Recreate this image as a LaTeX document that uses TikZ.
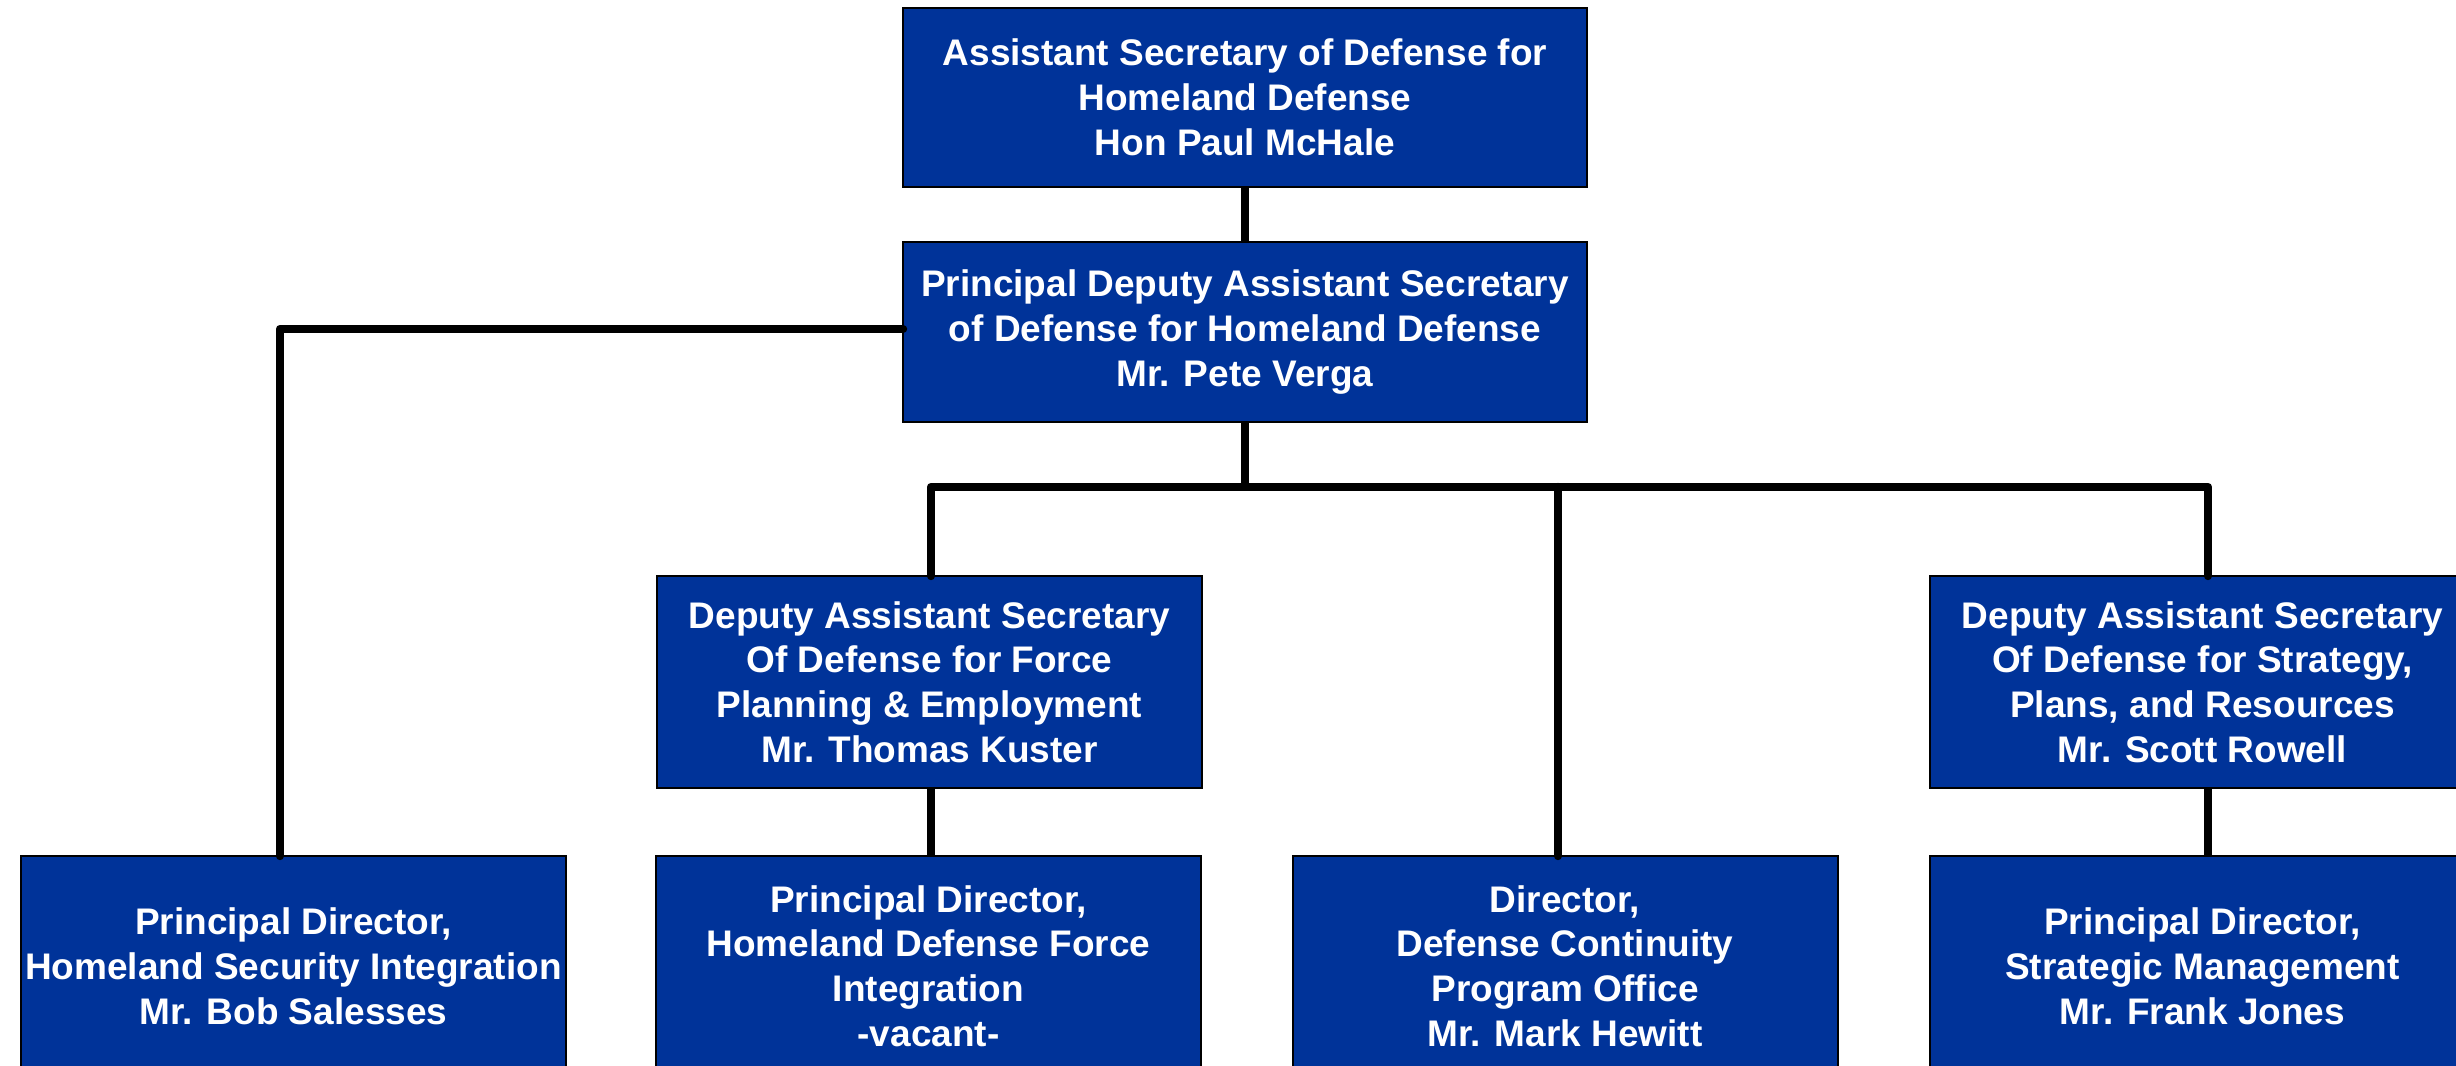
\documentclass[tikz,border=0pt]{standalone}
\usepackage{fontspec}
\setmainfont{Liberation Sans}
\definecolor{boxblue}{RGB}{0,51,153}
\begin{document}
\begin{tikzpicture}[x=0.5pt,y=-0.5pt,
  orgbox/.style={draw=black, line width=1pt, fill=boxblue, text=white,
    font=\fontsize{18.5}{22.4}\selectfont\bfseries, align=center,
    inner sep=0pt, outer sep=0pt, minimum width=272.5pt, minimum height=106pt},
  widebox/.style={orgbox, minimum width=342pt, minimum height=89.75pt},
  lowbox/.style={orgbox, minimum height=110pt},
  conn/.style={line width=4.2pt, line cap=round, line join=round}]
\useasboundingbox (0,0) rectangle (2456,1065);
\clip (0,0) rectangle (2456,1065);
\fill[white] (0,0) rectangle (2456,1065);

\node[widebox] (top) at (1245,97.5) {Assistant Secretary of Defense for\\Homeland Defense\\Hon Paul McHale};
\node[widebox] (pdas) at (1245,332) {Principal Deputy Assistant Secretary\\of Defense for Homeland Defense\\Mr. Pete Verga};
\node[orgbox] (das1) at (929.5,682) {Deputy Assistant Secretary\\Of Defense for Force\\Planning \& Employment\\Mr. Thomas Kuster};
\node[orgbox] (das2) at (2202.5,682) {Deputy Assistant Secretary\\Of Defense for Strategy,\\Plans, and Resources\\Mr. Scott Rowell};
\node[lowbox] (b1) at (293.5,966) {Principal Director,\\Homeland Security Integration\\Mr. Bob Salesses};
\node[lowbox] (b2) at (928.5,966) {Principal Director,\\Homeland Defense Force\\Integration\\-vacant-};
\node[lowbox] (b3) at (1565,966) {Director,\\Defense Continuity\\Program Office\\Mr. Mark Hewitt};
\node[lowbox] (b4) at (2202.5,966) {Principal Director,\\Strategic Management\\Mr. Frank Jones};

\coordinate (lc) at (280,329);
\coordinate (busL) at (931,487);
\coordinate (busM) at (1245,487);
\coordinate (busC) at (1558,487);
\coordinate (busR) at (2208,487);

\draw[conn, line cap=butt] (top.south) -- (pdas.north);
\draw[conn] (lc -| pdas.west) -- (lc) -- (lc |- b1.north);
\draw[conn, line cap=butt] (pdas.south) -- (busM);
\draw[conn] (busL |- das1.north) -- (busL) -- (busR) -- (busR |- das2.north);
\draw[conn] (busC) -- (busC |- b3.north);
\draw[conn, line cap=butt] (busL |- das1.south) -- (busL |- b2.north);
\draw[conn, line cap=butt] (busR |- das2.south) -- (busR |- b4.north);
\end{tikzpicture}
\end{document}
